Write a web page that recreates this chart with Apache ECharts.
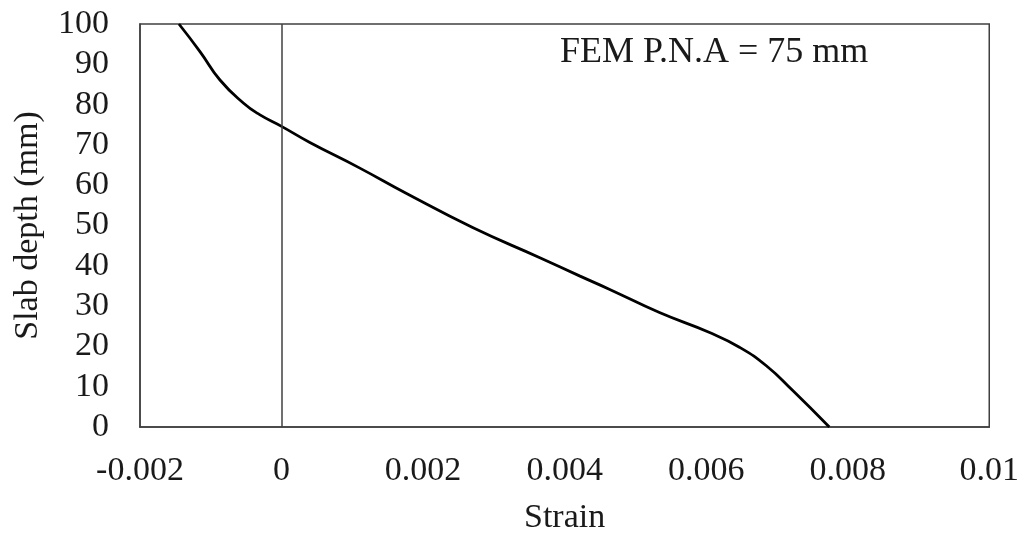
<!DOCTYPE html>
<html>
<head>
<meta charset="utf-8">
<script src="https://cdn.jsdelivr.net/npm/echarts@6/dist/echarts.min.js"></script>
<style>
  html, body { margin: 0; padding: 0; background: #fff; }
  #chart { width: 1022px; height: 540px; }
</style>
</head>
<body>
<div id="chart"></div>
<script>
// Strain profile through the slab depth (FEM result)
const strain = [-0.00145, -0.00115, -0.00087, -0.00054, -0.00031, 0.0, 0.0004, 0.0011, 0.00176, 0.0027, 0.00365, 0.00421, 0.00463, 0.00534, 0.00604, 0.00647, 0.00685, 0.00722, 0.00774];
const depth  = [100, 93.1, 86.1, 80.4, 77.5, 74.6, 70.6, 64.3, 58.0, 49.5, 42.0, 37.5, 34.2, 28.4, 23.5, 19.8, 15.2, 9.1, 0];
const xTicks = [-0.002, 0, 0.002, 0.004, 0.006, 0.008, 0.01];
const annotation = 'FEM P.N.A = 75 mm';

const font = '"Liberation Serif", "Times New Roman", serif';
const axisColor = '#404040';
const textColor = '#1a1a1a';

const chart = echarts.init(document.getElementById('chart'), null, { renderer: 'canvas' });

chart.setOption({
  animation: false,
  backgroundColor: '#fff',
  grid: {
    left: 140, right: 32, top: 24, bottom: 112,
    show: true, borderColor: axisColor, borderWidth: 1.5, backgroundColor: 'transparent'
  },
  xAxis: {
    type: 'value',
    min: xTicks[0], max: xTicks[xTicks.length - 1], interval: 0.002,
    name: 'Strain', nameLocation: 'middle', nameGap: 74,
    nameTextStyle: { fontFamily: font, fontSize: 34, color: textColor },
    axisLine: { show: true, onZero: false, lineStyle: { color: axisColor, width: 1.5 } },
    axisTick: { show: false },
    splitLine: { show: false },
    axisLabel: {
      fontFamily: font, fontSize: 34, color: textColor, margin: 27,
      formatter: v => {
        const hit = xTicks.find(t => Math.abs(t - v) < 1e-9);
        return hit === undefined ? '' : String(hit);
      }
    }
  },
  yAxis: {
    type: 'value',
    min: 0, max: 100, interval: 10,
    name: 'Slab depth (mm)', nameLocation: 'middle', nameGap: 95,
    nameTextStyle: { fontFamily: font, fontSize: 34, color: textColor },
    axisLine: { show: true, onZero: false, lineStyle: { color: axisColor, width: 1.5 } },
    axisTick: { show: false },
    splitLine: { show: false },
    axisLabel: { fontFamily: font, fontSize: 34, color: textColor, margin: 31 }
  },
  series: [{
    type: 'line',
    data: strain.map((s, i) => [s, depth[i]]),
    smooth: 0.5,
    showSymbol: false,
    lineStyle: { color: '#000', width: 2.8 },
    markLine: {
      silent: true,
      symbol: ['none', 'none'],
      label: { show: false },
      lineStyle: { color: axisColor, width: 1.5, type: 'solid' },
      data: [{ xAxis: 0 }]
    }
  }],
  graphic: [{
    type: 'text',
    left: 560, top: 35,
    style: { text: annotation, fontFamily: font, fontSize: 36, fill: textColor }
  }]
});
</script>
</body>
</html>
